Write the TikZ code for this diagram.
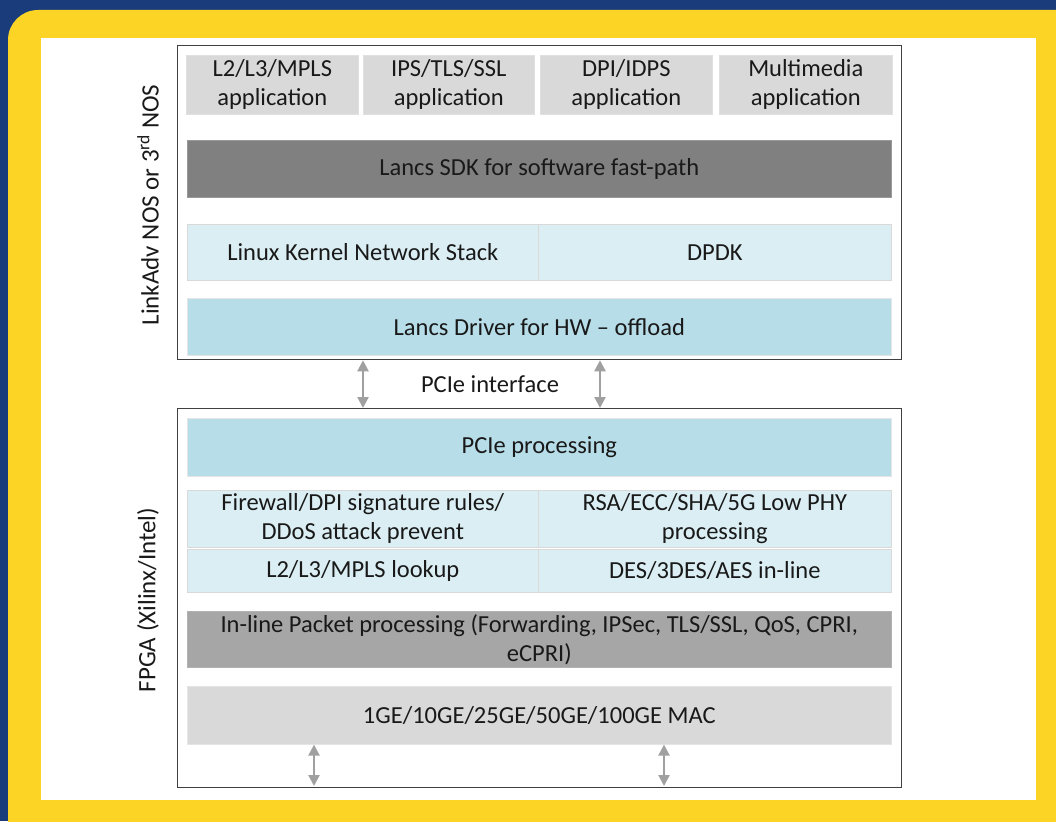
\documentclass[tikz,border=0pt]{standalone}
\usepackage{fontspec}
\setmainfont{Carlito}
\usepackage{tikz}
\usetikzlibrary{arrows.meta}
\usetikzlibrary{positioning}
\definecolor{bgblue}{RGB}{27,60,122}
\definecolor{frameyellow}{RGB}{252,212,38}
\definecolor{appgray}{RGB}{217,217,217}
\definecolor{sdkgray}{RGB}{128,128,128}
\definecolor{pktgray}{RGB}{166,166,166}
\definecolor{paleblue}{RGB}{218,238,243}
\definecolor{midblue}{RGB}{183,221,232}
\definecolor{arrowgray}{RGB}{160,160,160}
\tikzstyle{block}=[rectangle,anchor=north west,inner sep=1pt,align=center,font=\fontsize{24.5}{29}\selectfont,text=black!90]
\tikzstyle{app}=[block,fill=appgray,draw=black!12,line width=0.6pt]
\tikzstyle{sdk}=[block,fill=sdkgray,draw=black!40,line width=0.6pt]
\tikzstyle{pkt}=[block,fill=pktgray,draw=black!30,line width=0.6pt]
\tikzstyle{mac}=[block,fill=appgray,draw=black!10,line width=0.6pt]
\tikzstyle{pale}=[block,fill=paleblue,draw=black!15,line width=0.6pt]
\tikzstyle{mid}=[block,fill=midblue,draw=black!10,line width=0.6pt]
\tikzstyle{layer}=[rectangle,anchor=north west,draw=black!75,line width=1.3pt,inner sep=0pt]
\tikzstyle{side}=[rotate=90,font=\fontsize{25}{29}\selectfont,text=black!90]
\tikzstyle{link}=[{Triangle[length=11pt,width=11pt]}-{Triangle[length=11pt,width=11pt]},arrowgray,line width=2.2pt]
\begin{document}
\begin{tikzpicture}[x=1pt,y=-1pt]
\useasboundingbox (0,0) rectangle (1056,821);
% frame
\fill[bgblue] (0,0) rectangle (1056,821);
\fill[frameyellow,rounded corners=30pt] (8,10) rectangle (1090,860);
\fill[white] (41,38) rectangle (1036,800);
% host side
\node[layer,minimum width=724pt,minimum height=314pt] (host) at (177,45) {};
\node[app,minimum width=172pt,minimum height=59pt] (l2app) at (186,55) {L2/L3/MPLS\\application};
\node[app,minimum width=171pt,minimum height=59pt] (ipsapp) at (363,55) {IPS/TLS/SSL\\application};
\node[app,minimum width=172pt,minimum height=59pt] (dpiapp) at (540,55) {DPI/IDPS\\application};
\node[app,minimum width=173pt,minimum height=59pt] (mmapp) at (719,55) {Multimedia\\application};
\node[sdk,minimum width=704pt,minimum height=57pt] (sdk) at (187,140) {Lancs SDK for software fast-path};
\node[pale,minimum width=351pt,minimum height=56pt] (kernel) at (187,224) {Linux Kernel Network Stack};
\node[pale,minimum width=353pt,minimum height=56pt] (dpdk) at (538,224) {DPDK};
\node[mid,minimum width=704pt,minimum height=57pt] (driver) at (187,298) {Lancs Driver for HW -- offload};
\node[side] (hostlbl) at (148,205) {LinkAdv NOS or 3\textsuperscript{rd} NOS};
% fpga side
\node[layer,minimum width=724pt,minimum height=379pt] (fpga) at (177,408) {};
\node[mid,minimum width=704pt,minimum height=58pt] (pcie) at (187,418) {PCIe processing};
\node[pale,minimum width=351pt,minimum height=57pt] (fw) at (187,490) {Firewall/DPI signature rules/\\DDoS attack prevent};
\node[pale,minimum width=353pt,minimum height=57pt] (rsa) at (538,490) {RSA/ECC/SHA/5G Low PHY\\processing};
\node[pale,minimum width=351pt,minimum height=43pt] (lookup) at (187,549) {L2/L3/MPLS lookup};
\node[pale,minimum width=353pt,minimum height=43pt] (des) at (538,549) {DES/3DES/AES in-line};
\node[pkt,minimum width=704pt,minimum height=56pt] (inline) at (187,611) {In-line Packet processing (Forwarding, IPSec, TLS/SSL, QoS, CPRI,\\eCPRI)};
\node[mac,minimum width=704pt,minimum height=58pt] (mac) at (187,686) {1GE/10GE/25GE/50GE/100GE MAC};
\node[side] (fpgalbl) at (148,600) {FPGA (Xilinx/Intel)};
% pcie interface
\node[font=\fontsize{24.5}{29}\selectfont,text=black!90] (ifc) at (490,384) {PCIe interface};
\draw[link] (host.south -| 363,0) -- (fpga.north -| 363,0);
\draw[link] (host.south -| 600,0) -- (fpga.north -| 600,0);
% ports
\coordinate (portl) at (314,786);
\coordinate (portr) at (664,786);
\draw[link] (mac.south -| portl) -- (portl);
\draw[link] (mac.south -| portr) -- (portr);
\end{tikzpicture}
\end{document}
